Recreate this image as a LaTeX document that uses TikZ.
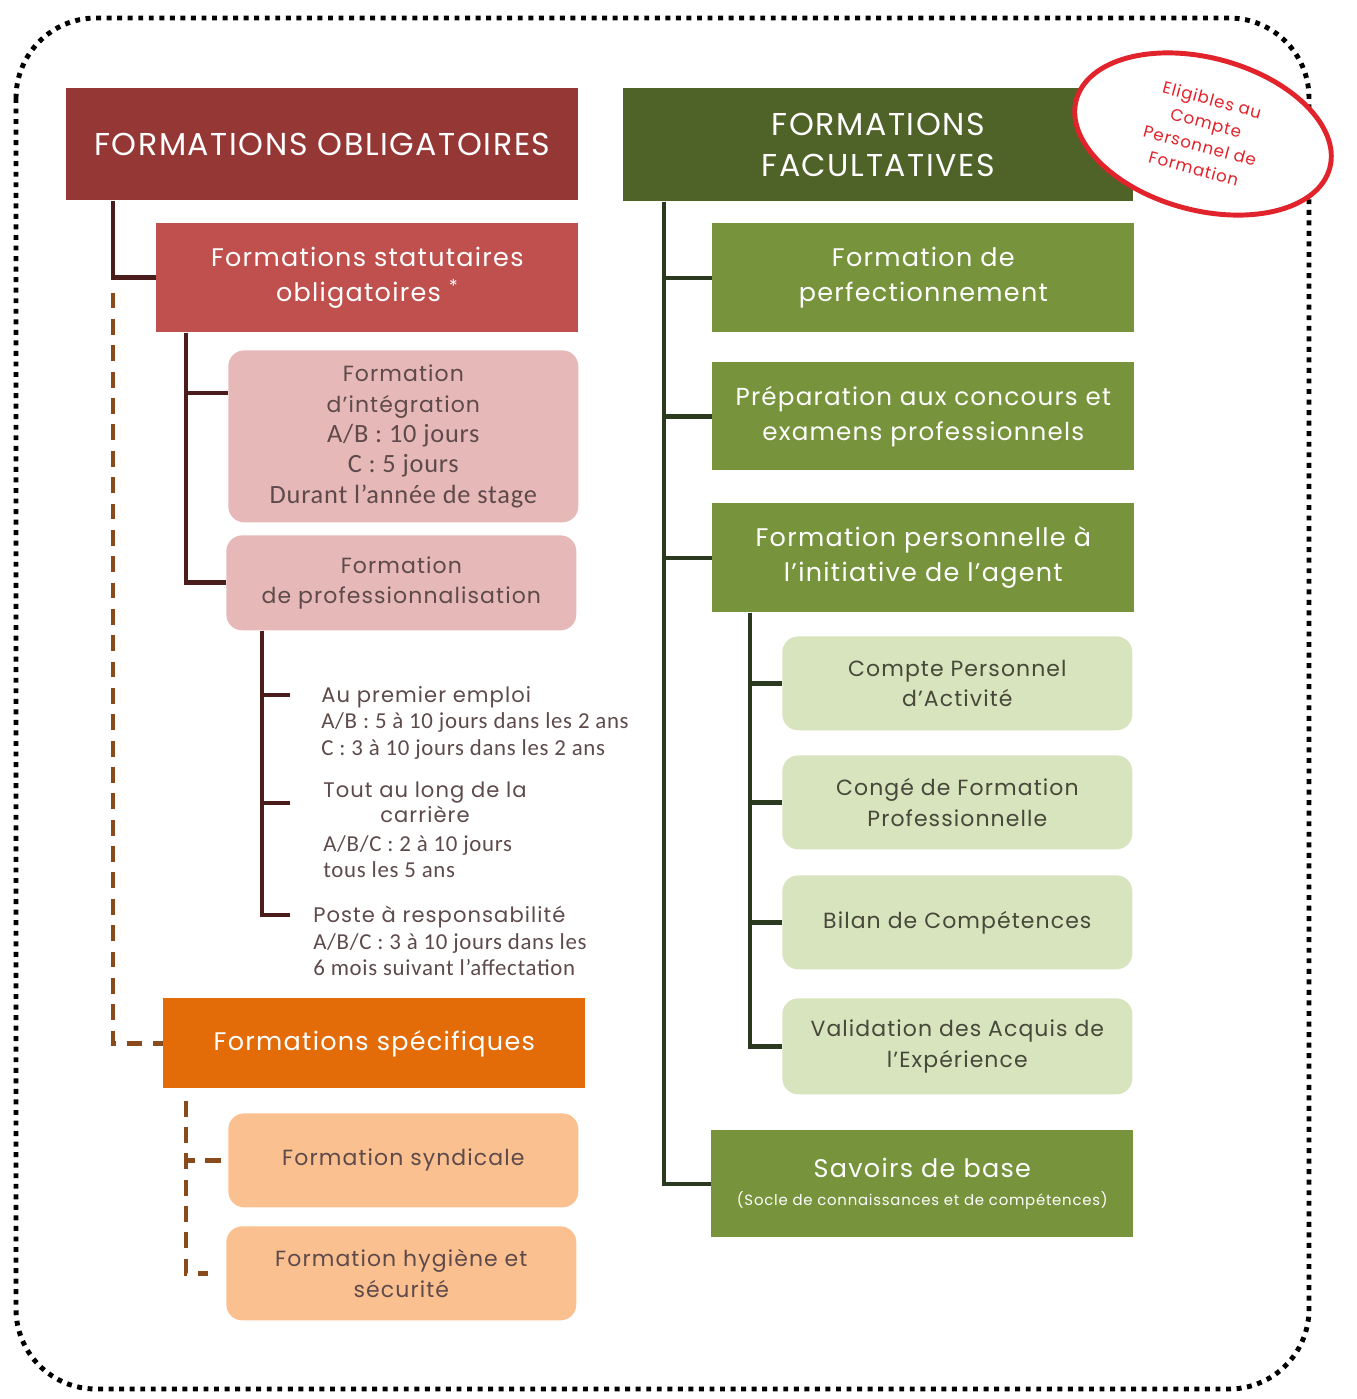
\documentclass[tikz,border=0pt]{standalone}
\usepackage{fontspec}
\setmainfont{Poppins}[LetterSpace=5]
\newfontfamily\narrowfont{Carlito}[LetterSpace=3]
\usepackage{tikz}
\usetikzlibrary{calc,positioning,shapes.geometric}
\definecolor{oblred}{HTML}{953735}
\definecolor{statred}{HTML}{C0504D}
\definecolor{pinkbox}{HTML}{E6B9B8}
\definecolor{specorange}{HTML}{E36C09}
\definecolor{peach}{HTML}{FAC090}
\definecolor{olive}{HTML}{4F6228}
\definecolor{leaf}{HTML}{77933C}
\definecolor{paleleaf}{HTML}{D7E4BD}
\definecolor{ring}{HTML}{E1232B}
\definecolor{plum}{HTML}{4A1C1C}
\definecolor{rust}{HTML}{8A4B1C}
\definecolor{bark}{HTML}{2B3A1E}
\definecolor{greytext}{HTML}{5E4A4A}
\definecolor{mosstext}{HTML}{48483A}
\tikzset{
  headbox/.style={anchor=north west, inner sep=4pt, align=center,
    text=white, font=\fontsize{18}{23}\selectfont},
  oblhead/.style={headbox, fill=oblred},
  facthead/.style={headbox, fill=olive},
  midbox/.style={anchor=north west, align=center, text=white,
    minimum width=8.44cm, font=\fontsize{14.5}{20}\selectfont},
  statbox/.style={midbox, fill=statred},
  specbox/.style={midbox, fill=specorange},
  greenbox/.style={midbox, fill=leaf},
  softbox/.style={anchor=north west, align=center, rounded corners=9pt,
    minimum width=7cm, minimum height=1.88cm, font=\fontsize{12.5}{17.3}\selectfont},
  pinksoft/.style={softbox, fill=pinkbox, text=greytext},
  peachsoft/.style={softbox, fill=peach, text=greytext},
  leafsoft/.style={softbox, fill=paleleaf, text=mosstext},
  item/.style={anchor=north west, align=left, inner sep=0pt, text=greytext,
    font=\fontsize{12}{15}\selectfont},
  oblink/.style={draw=plum, line width=2.8pt},
  speclink/.style={draw=rust, line width=2.8pt, dash pattern=on 9pt off 6pt},
  factlink/.style={draw=bark, line width=2.6pt}
}
\newcommand{\nar}[1]{{\narrowfont\fontsize{15}{17.3}\selectfont #1}}
\newcommand{\nit}[1]{{\narrowfont\fontsize{13}{14.5}\selectfont #1}}

\begin{document}
\begin{tikzpicture}[x=0.02cm,y=-0.02cm]
  \useasboundingbox (0,0) rectangle (1356,1399);
  % dotted frame
  \draw[line width=2.8pt, dash pattern=on 2.8pt off 3.2pt, rounded corners=1.6cm]
    (16,18) rectangle (1309,1389);

  % Obligatory side
  \node[oblhead, minimum width=10.24cm, minimum height=2.24cm] (oblig) at (66,88)
    {FORMATIONS OBLIGATOIRES};
  \node[statbox, minimum height=2.18cm] (stat) at (156,223)
    {Formations statutaires\\obligatoires \textsuperscript{*}};
  \node[pinksoft, minimum height=3.44cm] (integ) at (228,350)
    {Formation\\d’intégration\\\nar{A/B : 10 jours}\\\nar{C : 5 jours}\\\nar{Durant l’année de stage}};
  \node[pinksoft, minimum height=1.9cm] (prof) at (226,535)
    {Formation\\de professionnalisation};
  \node[item] (premier) at (321,686)
    {Au premier emploi\\\nit{A/B : 5 à 10 jours dans les 2 ans}\\\nit{C : 3 à 10 jours dans les 2 ans}};
  \node[item] (carriere) at (323,779)
    {\begin{tabular}{@{}c@{}}Tout au long de la\\[-1pt]carrière\end{tabular}\\[2pt]\nit{A/B/C : 2 à 10 jours}\\\nit{tous les 5 ans}};
  \node[item] (poste) at (313,906)
    {Poste à responsabilité\\\nit{A/B/C : 3 à 10 jours dans les}\\\nit{6 mois suivant l’affectation}};
  \node[specbox, minimum height=1.8cm] (spec) at (163,998) {Formations spécifiques};
  \node[peachsoft] (synd) at (228,1113) {Formation syndicale};
  \node[peachsoft] (hyg) at (226,1226) {Formation hygiène et\\sécurité};

  \draw[oblink] ($(oblig.south west)+(47,0)$) |- (stat.west);
  \draw[speclink] ($(oblig.south west)+(47,92)$) |- (spec.west);
  \draw[oblink] ($(stat.south west)+(30,0)$) |- ($(integ.north west)+(0,43)$);
  \draw[oblink] ($(stat.south west)+(30,0)$) |- (prof.west);
  \draw[oblink] ($(prof.south west)+(36,0)$) |- ($(premier.north west)+(-31,9)$);
  \draw[oblink] ($(prof.south west)+(36,0)$) |- ($(carriere.north west)+(-33,24)$);
  \draw[oblink] ($(prof.south west)+(36,0)$) |- ($(poste.north west)+(-23,9)$);
  \draw[speclink] ($(spec.south west)+(23,12)$) |- (synd.west);
  \draw[speclink] ($(spec.south west)+(23,12)$) |- ($(hyg.west)+(-18,0)$);

  % Optional side
  \node[facthead, minimum width=10.2cm, minimum height=2.26cm] (facult) at (623,88)
    {FORMATIONS\\FACULTATIVES};
  \node[greenbox, minimum height=2.18cm] (perf) at (712,223)
    {Formation de\\perfectionnement};
  \node[greenbox, minimum height=2.16cm, font=\fontsize{14}{20}\selectfont] (prep) at (712,362)
    {Préparation aux concours et\\examens professionnels};
  \node[greenbox, minimum height=2.18cm] (perso) at (712,503)
    {Formation personnelle à\\l’initiative de l’agent};
  \node[leafsoft] (cpa) at (782,636) {Compte Personnel\\d’Activité};
  \node[leafsoft] (cfp) at (782,755) {Congé de Formation\\Professionnelle};
  \node[leafsoft] (bilan) at (782,875) {Bilan de Compétences};
  \node[leafsoft, minimum height=1.92cm] (vae) at (782,998)
    {Validation des Acquis de\\l’Expérience};
  \node[greenbox, minimum height=2.14cm] (savoirs) at (711,1130)
    {Savoirs de base\\[-4pt]{\fontsize{8.5}{10}\selectfont (Socle de connaissances et de compétences)}};

  \draw[factlink] ($(facult.south west)+(41,0)$) |- (perf.west);
  \draw[factlink] ($(facult.south west)+(41,0)$) |- (prep.west);
  \draw[factlink] ($(facult.south west)+(41,0)$) |- (perso.west);
  \draw[factlink] ($(facult.south west)+(41,0)$) |- (savoirs.west);
  \draw[factlink] ($(perso.south west)+(38,0)$) |- (cpa.west);
  \draw[factlink] ($(perso.south west)+(38,0)$) |- (cfp.west);
  \draw[factlink] ($(perso.south west)+(38,0)$) |- (bilan.west);
  \draw[factlink] ($(perso.south west)+(38,0)$) |- (vae.west);

  % CPF stamp
  \node[ellipse, draw=ring, line width=2.8pt, fill=white, rotate=-15,
    minimum width=5.25cm, minimum height=3.05cm, align=center, text=ring,
    font=\fontsize{9.5}{13.5}\selectfont] (cpf) at (1203,134)
    {Eligibles au\\Compte\\Personnel de\\Formation};
\end{tikzpicture}
\end{document}
